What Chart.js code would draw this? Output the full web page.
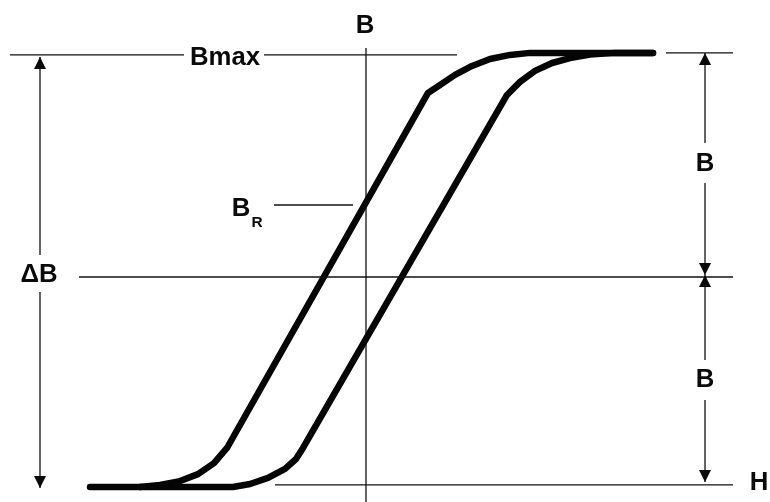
<!DOCTYPE html>
<html>
<head>
<meta charset="utf-8">
<script src="https://cdn.jsdelivr.net/npm/chart.js@4"></script>
<style>
  body { margin: 0; background: #fff; }
  #wrap { width: 770px; height: 502px; }
</style>
</head>
<body>
<div id="wrap"><canvas id="canvas1" width="770" height="502"></canvas></div>
<script>
// hysteresis loop, H on x, B on y (B = 0 on the middle line, Bmax ~ 1)
var hRange = [-3.66, 4.04];
var bRange = [-1.0, 1.231];

var leftBranchH = [-2.76, -2.26, -2.06, -1.86, -1.68, -1.52, -1.39, 0.62, 0.74, 0.89, 1.06, 1.24, 1.44, 1.64, 2.87];
var leftBranchB = [-0.933, -0.933, -0.924, -0.907, -0.876, -0.827, -0.760, 0.818, 0.853, 0.898, 0.938, 0.969, 0.987, 0.996, 0.996];
var rightBranchH = [-2.26, -1.33, -1.16, -0.98, -0.81, -0.70, -0.63, 1.41, 1.54, 1.69, 1.86, 2.04, 2.24, 2.49, 2.87];
var rightBranchB = [-0.933, -0.933, -0.920, -0.893, -0.853, -0.809, -0.760, 0.809, 0.867, 0.916, 0.951, 0.973, 0.989, 0.996, 0.996];

// thin guide lines: [h1, b1, h2, b2]
var guideLines = [
  [0, 1.018, 0, -1.0],          // B axis
  [-3.56, 0.987, -1.82, 0.987], // Bmax, left of label
  [-1.02, 0.987, 0.91, 0.987],  // Bmax, right of label
  [3.00, 0.996, 3.67, 0.996],   // Bmax, right side
  [-2.87, 0, 3.67, 0],          // middle line
  [-0.91, -0.924, 3.67, -0.924],// H line
  [-0.92, 0.32, -0.13, 0.32]    // B_R leader
];
// dimension arrow shafts
var arrowShafts = [
  [-3.26, 0.978, -3.26, 0.098],
  [-3.26, -0.067, -3.26, -0.938],
  [3.39, 0.996, 3.39, 0.596],
  [3.39, 0.418, 3.39, 0.009],
  [3.39, 0.009, 3.39, -0.369],
  [3.39, -0.547, 3.39, -0.911]
];
// arrow tips: [h, b, direction] (1 = up, -1 = down)
var arrowTips = [
  [-3.26, 0.978, 1], [-3.26, -0.938, -1],
  [3.39, 0.996, 1], [3.39, 0.009, -1],
  [3.39, 0.009, 1], [3.39, -0.911, -1]
];

var labelTexts = ['B', 'Bmax', 'B', 'B', '\u0394B', 'B', 'H'];
var labelH = [-0.01, -1.41, 3.39, 3.39, -3.27, -1.25, 3.93];
var labelB = [1.124, 0.982, 0.511, -0.449, 0.018, 0.311, -0.907];
var subText = 'R';
var subH = -1.09, subB = 0.244;

function pts(hs, bs) {
  return hs.map(function (h, i) { return { x: h, y: bs[i] }; });
}

var datasets = [];
guideLines.concat(arrowShafts).forEach(function (s) {
  datasets.push({
    data: [{ x: s[0], y: s[1] }, { x: s[2], y: s[3] }],
    showLine: true, borderColor: '#111', borderWidth: 1.3, pointRadius: 0
  });
});
[pts(leftBranchH, leftBranchB), pts(rightBranchH, rightBranchB)].forEach(function (d) {
  datasets.push({
    data: d, showLine: true, borderColor: '#050505', borderWidth: 6.5,
    borderCapStyle: 'round', borderJoinStyle: 'round', tension: 0, pointRadius: 0
  });
});

var annotate = {
  id: 'annotate',
  afterDatasetsDraw: function (chart) {
    var ctx = chart.ctx, xs = chart.scales.x, ys = chart.scales.y;
    ctx.save();
    ctx.fillStyle = '#0a0a0a';
    arrowTips.forEach(function (a) {
      var px = xs.getPixelForValue(a[0]), py = ys.getPixelForValue(a[1]);
      ctx.beginPath();
      ctx.moveTo(px, py);
      ctx.lineTo(px - 6, py + a[2] * 12);
      ctx.lineTo(px + 6, py + a[2] * 12);
      ctx.closePath();
      ctx.fill();
    });
    function txt(t, h, b, size) {
      var px = xs.getPixelForValue(h), py = ys.getPixelForValue(b);
      ctx.save();
      ctx.font = 'bold ' + size + 'px "Liberation Sans", Arial, sans-serif';
      ctx.textAlign = 'center';
      ctx.textBaseline = 'alphabetic';
      ctx.translate(px, py + size * 0.716 / 2);
      ctx.scale(1.03, 1);
      ctx.fillText(t, 0, 0);
      ctx.restore();
    }
    labelTexts.forEach(function (t, i) { txt(t, labelH[i], labelB[i], 25); });
    txt(subText, subH, subB, 15);
    ctx.restore();
  }
};

new Chart(document.getElementById('canvas1'), {
  type: 'scatter',
  data: { datasets: datasets },
  options: {
    responsive: false,
    animation: false,
    layout: { padding: 0 },
    plugins: { legend: { display: false }, tooltip: { enabled: false } },
    scales: {
      x: { type: 'linear', min: hRange[0], max: hRange[1], display: false },
      y: { type: 'linear', min: bRange[0], max: bRange[1], display: false }
    }
  },
  plugins: [annotate]
});
</script>
</body>
</html>
